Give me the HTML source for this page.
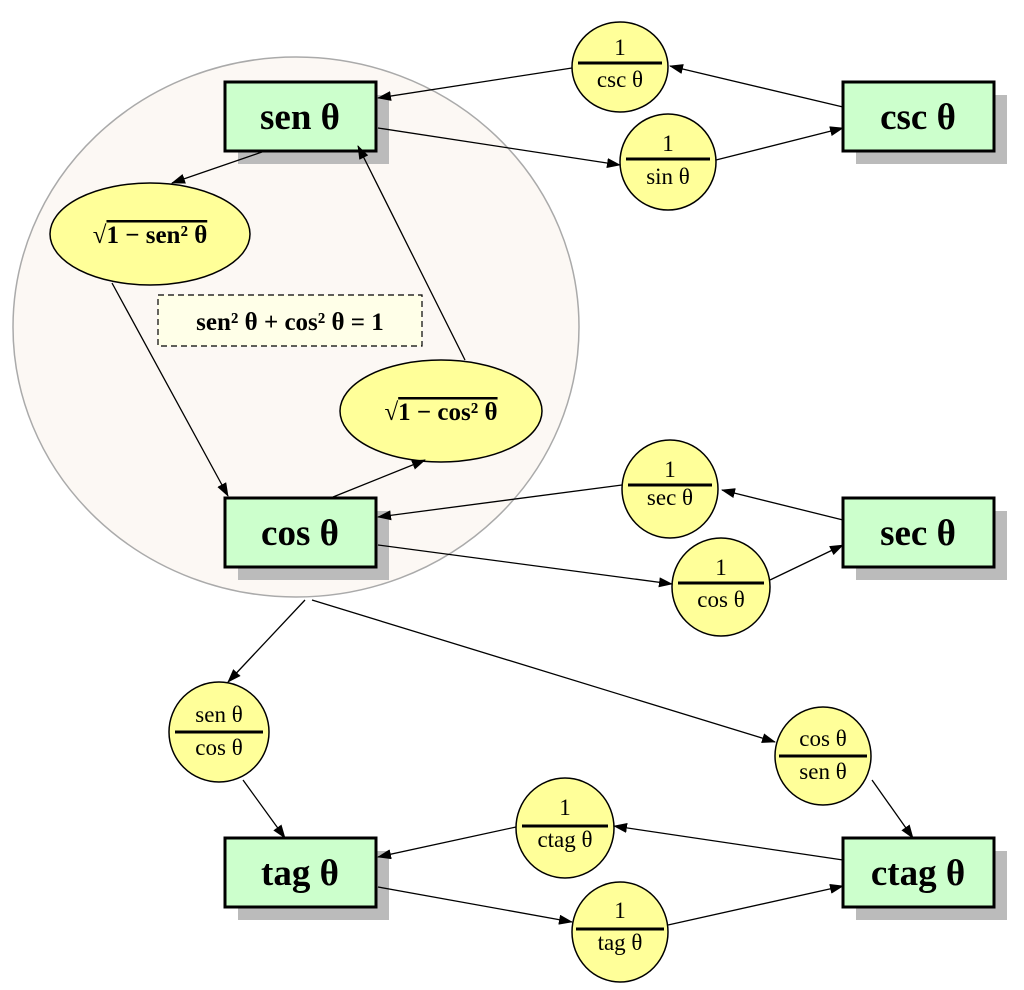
<!DOCTYPE html>
<html><head><meta charset="utf-8"><style>
html,body{margin:0;padding:0;background:#fff}
svg{display:block}
text{font-family:"Liberation Serif",serif;fill:#000}
.b{font-weight:bold;font-size:37px}
.f{font-size:23px}
.s{font-weight:bold;font-size:25px}
</style></head><body>
<svg width="1024" height="990" viewBox="0 0 1024 990" xmlns="http://www.w3.org/2000/svg">
<defs>
<marker id="a" markerWidth="14" markerHeight="10" refX="13" refY="5" orient="auto" markerUnits="userSpaceOnUse">
<path d="M0,0 L14,5 L0,10 z" fill="#000"/></marker>
</defs>
<ellipse cx="296" cy="327" rx="283" ry="270" fill="#fcf8f4" stroke="#aaa" stroke-width="1.5"/>
<g fill="#bbb">
<rect x="238" y="95" width="151" height="69"/>
<rect x="856" y="95" width="151" height="69"/>
<rect x="238" y="511" width="151" height="69"/>
<rect x="856" y="511" width="151" height="69"/>
<rect x="238" y="851" width="151" height="69"/>
<rect x="856" y="851" width="151" height="69"/>
</g>
<g fill="#ccffcc" stroke="#000" stroke-width="3">
<rect x="225" y="82" width="151" height="69"/>
<rect x="843" y="82" width="151" height="69"/>
<rect x="225" y="498" width="151" height="69"/>
<rect x="843" y="498" width="151" height="69"/>
<rect x="225" y="838" width="151" height="69"/>
<rect x="843" y="838" width="151" height="69"/>
</g>
<g class="b" text-anchor="middle">
<text x="300" y="129">sen θ</text>
<text x="918" y="129">csc θ</text>
<text x="300" y="545">cos θ</text>
<text x="918" y="545">sec θ</text>
<text x="300" y="885">tag θ</text>
<text x="918" y="885">ctag θ</text>
</g>
<rect x="158" y="295" width="264" height="51" fill="#ffffe8" stroke="#000" stroke-width="1.2" stroke-dasharray="6,4"/>
<text class="s" x="290" y="330" text-anchor="middle">sen² θ + cos² θ = 1</text>
<g fill="#ffff99" stroke="#000" stroke-width="1.5">
<ellipse cx="620" cy="67" rx="48" ry="45"/>
<ellipse cx="668" cy="162" rx="48" ry="48"/>
<ellipse cx="150" cy="234" rx="100" ry="51"/>
<ellipse cx="441" cy="411" rx="101" ry="51"/>
<ellipse cx="670" cy="489" rx="48" ry="49"/>
<ellipse cx="721" cy="587" rx="49" ry="49"/>
<ellipse cx="219" cy="732" rx="50" ry="50"/>
<ellipse cx="823" cy="756" rx="48" ry="49"/>
<ellipse cx="565" cy="828" rx="49" ry="50"/>
<ellipse cx="620" cy="932" rx="48" ry="50"/>
</g>
<g class="s" text-anchor="middle">
<text x="150" y="243">√<tspan text-decoration="overline">1 − sen² θ</tspan></text>
<text x="441" y="420">√<tspan text-decoration="overline">1 − cos² θ</tspan></text>
</g>
<g stroke="#000" stroke-width="3">
<line x1="578" y1="63" x2="662" y2="63"/>
<line x1="626" y1="159" x2="710" y2="159"/>
<line x1="628" y1="485" x2="712" y2="485"/>
<line x1="678" y1="583" x2="764" y2="583"/>
<line x1="175" y1="732" x2="263" y2="732"/>
<line x1="779" y1="756" x2="867" y2="756"/>
<line x1="522" y1="826" x2="608" y2="826"/>
<line x1="576" y1="929" x2="664" y2="929"/>
</g>
<g class="f" text-anchor="middle">
<text x="620" y="55">1</text><text x="620" y="87">csc θ</text>
<text x="668" y="151">1</text><text x="668" y="184">sin θ</text>
<text x="670" y="477">1</text><text x="670" y="505">sec θ</text>
<text x="721" y="575">1</text><text x="721" y="607">cos θ</text>
<text x="219" y="722">sen θ</text><text x="219" y="755">cos θ</text>
<text x="823" y="746">cos θ</text><text x="823" y="779">sen θ</text>
<text x="565" y="815">1</text><text x="565" y="847">ctag θ</text>
<text x="620" y="918">1</text><text x="620" y="950">tag θ</text>
</g>
<g stroke="#000" stroke-width="1.3" marker-end="url(#a)">
<line x1="572" y1="68" x2="378" y2="98"/>
<line x1="843" y1="107" x2="670" y2="66"/>
<line x1="378" y1="128" x2="620" y2="165"/>
<line x1="716" y1="160" x2="843" y2="128"/>
<line x1="262" y1="152" x2="172" y2="183"/>
<line x1="112" y1="283" x2="228" y2="496"/>
<line x1="465" y1="360" x2="358" y2="146"/>
<line x1="333" y1="497" x2="425" y2="460"/>
<line x1="622" y1="485" x2="378" y2="517"/>
<line x1="843" y1="520" x2="722" y2="490"/>
<line x1="378" y1="545" x2="672" y2="584"/>
<line x1="770" y1="580" x2="843" y2="545"/>
<line x1="305" y1="600" x2="228" y2="682"/>
<line x1="312" y1="600" x2="775" y2="742"/>
<line x1="243" y1="780" x2="285" y2="838"/>
<line x1="872" y1="780" x2="913" y2="838"/>
<line x1="516" y1="827" x2="378" y2="857"/>
<line x1="843" y1="860" x2="614" y2="826"/>
<line x1="378" y1="887" x2="572" y2="922"/>
<line x1="668" y1="925" x2="843" y2="886"/>
</g>
</svg>
</body></html>
